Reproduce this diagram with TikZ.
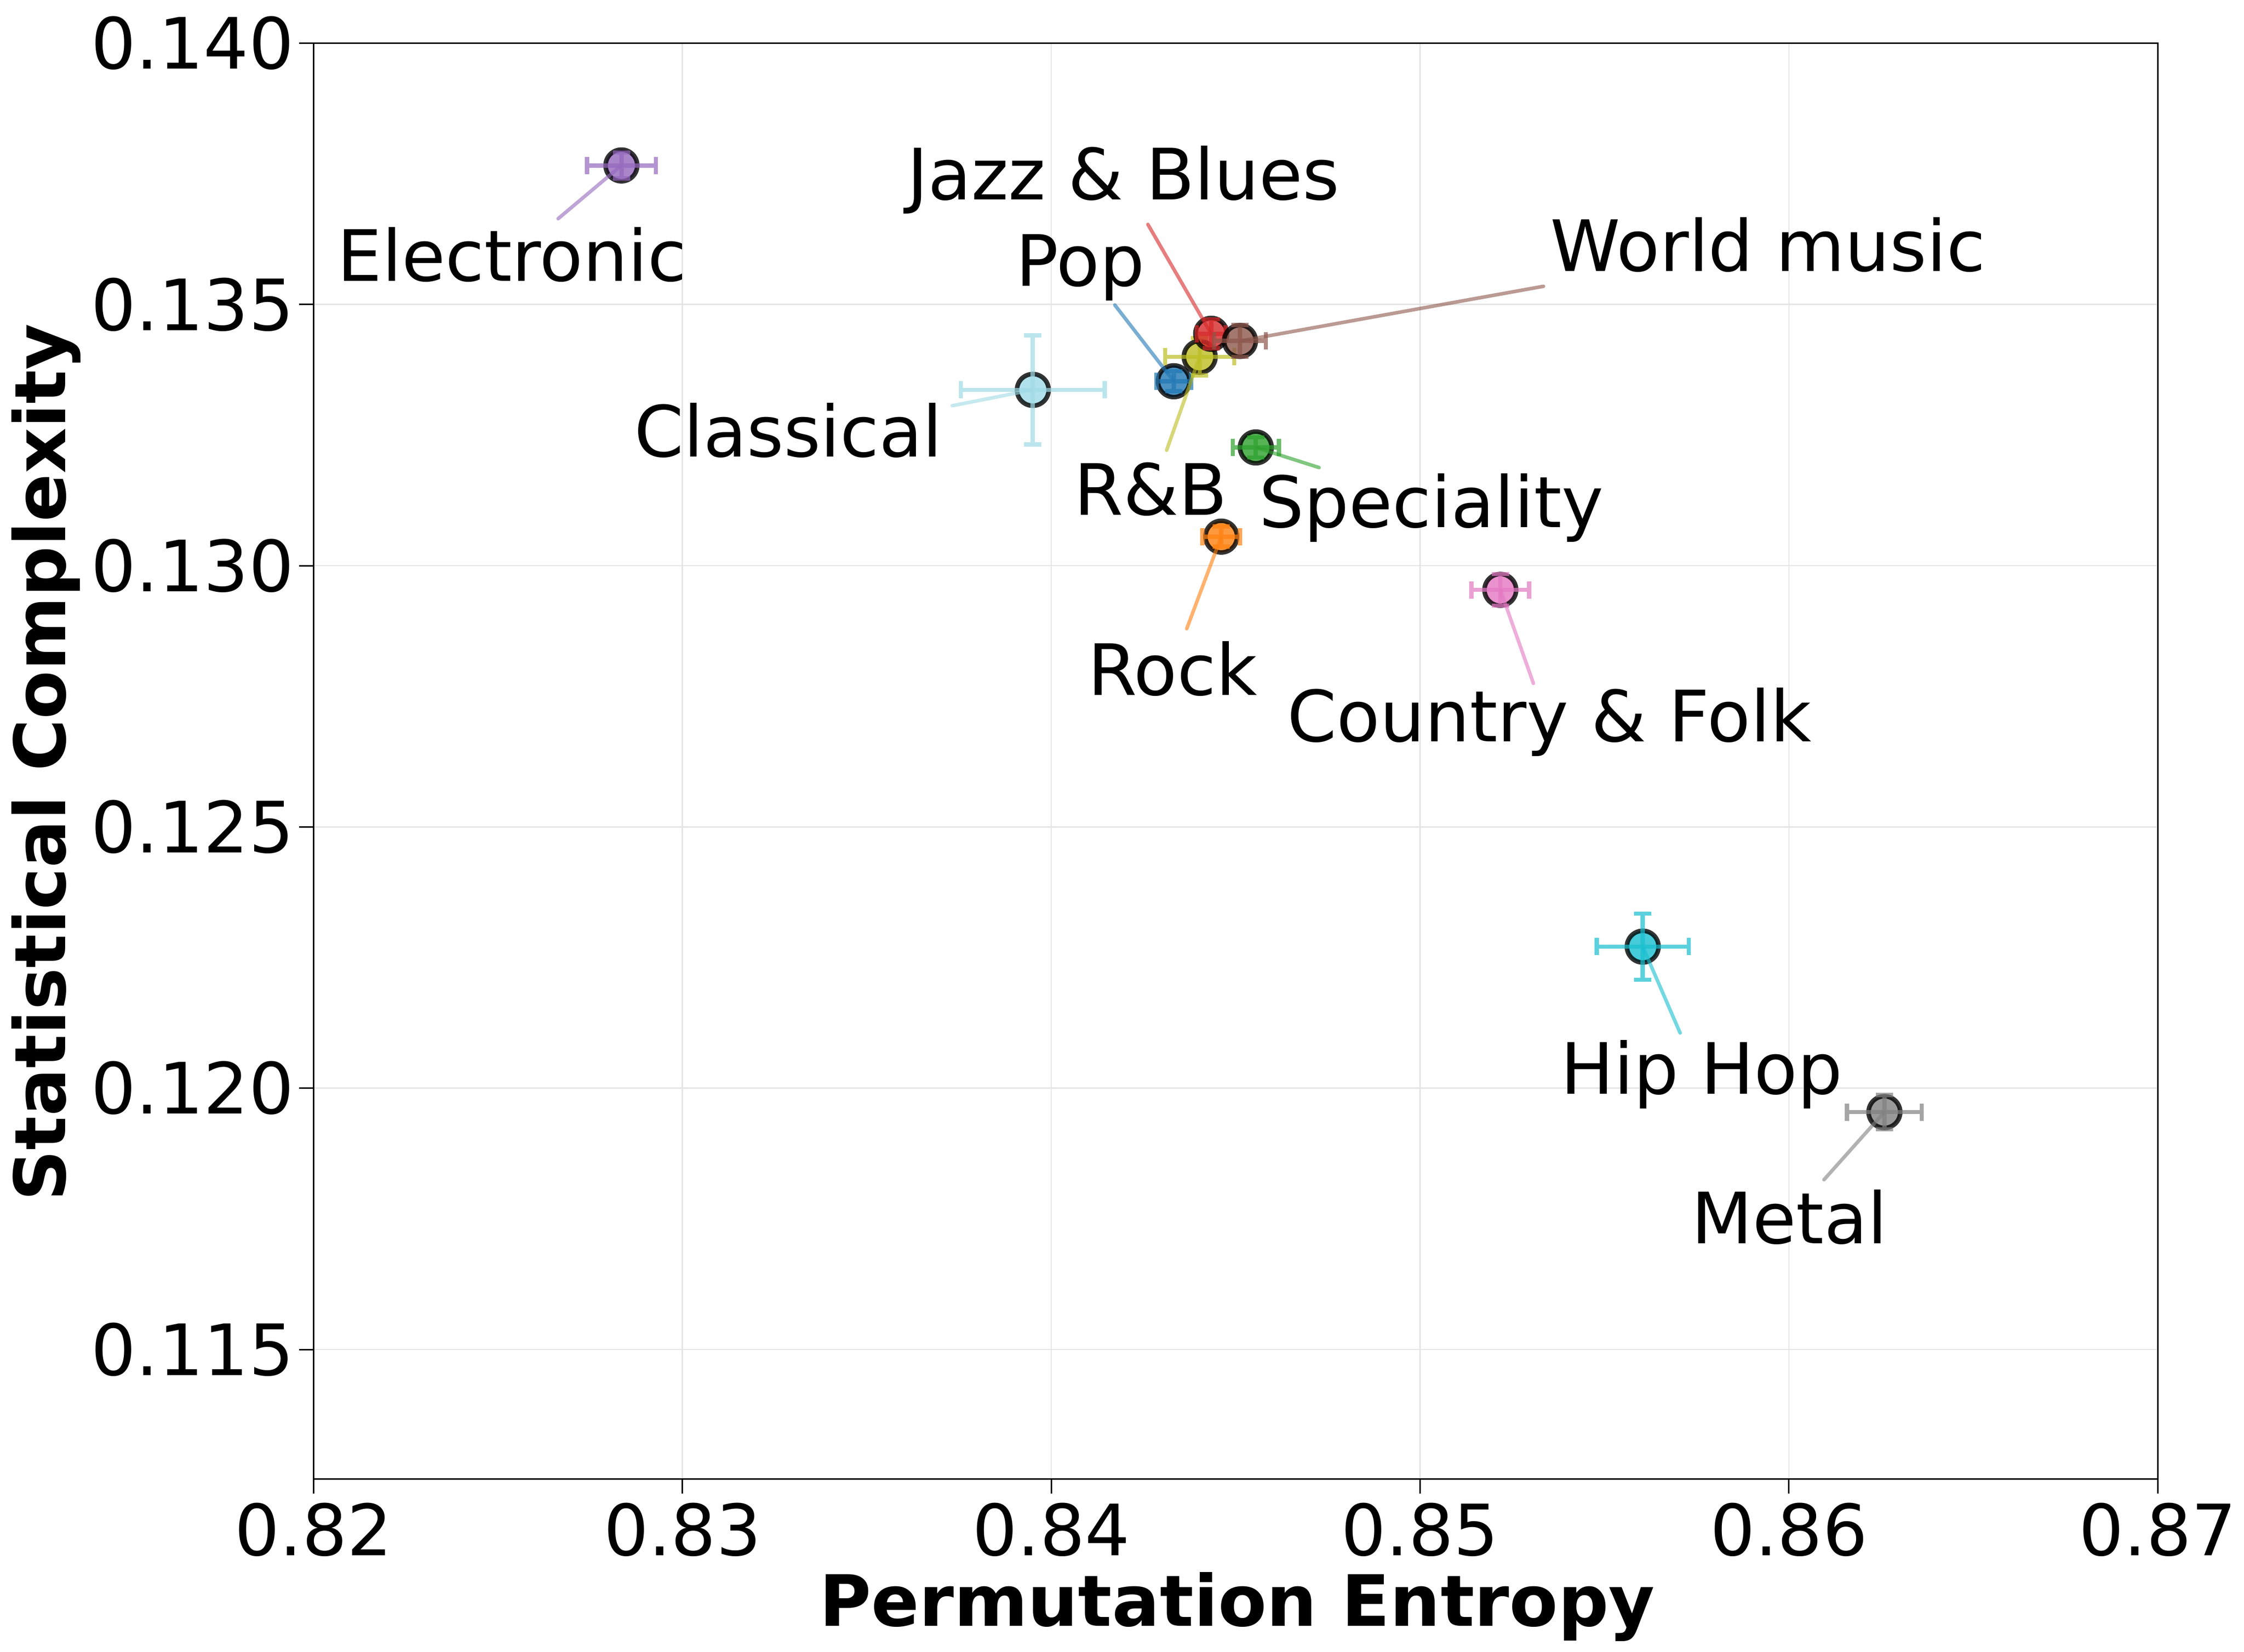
\documentclass[tikz,border=0pt]{standalone}
\usepackage{fontspec}
\setmainfont{DejaVu Sans}
\definecolor{cB}{HTML}{1F77B4}\definecolor{cO}{HTML}{FF7F0E}\definecolor{cG}{HTML}{2CA02C}
\definecolor{cR}{HTML}{D62728}\definecolor{cP}{HTML}{9467BD}\definecolor{cBr}{HTML}{8C564B}
\definecolor{cPk}{HTML}{E377C2}\definecolor{cGy}{HTML}{7F7F7F}\definecolor{cOl}{HTML}{BCBD22}
\definecolor{cC}{HTML}{17BECF}\definecolor{cLc}{HTML}{9EDAE5}
\begin{document}
\begin{tikzpicture}[x=0.01cm,y=-0.01cm,
  tick/.style={font=\fontsize{14}{16}\selectfont,inner sep=0pt},
  lab/.style={font=\fontsize{14}{16}\selectfont,inner sep=0pt},
  lead/.style={line width=0.7pt,opacity=0.6,line cap=round},
  pt/.style={circle,minimum size=0.22cm,inner sep=0pt,line width=0.9pt,draw=black,draw opacity=0.8,fill opacity=0.8}]
\useasboundingbox (0,0) rectangle (1560,1148);
% grid
\foreach \x in {218,474.4,730.8,987.2,1243.6,1500} \draw[black!10,line width=0.25pt] (\x,30) -- (\x,1028);
\foreach \y in {30,211.6,393.2,574.8,756.4,938} \draw[black!10,line width=0.25pt] (218,\y) -- (1500,\y);
\draw[line width=0.3pt] (218,30) rectangle (1500,1028);
\foreach \x/\t in {218/0.82,474.4/0.83,730.8/0.84,987.2/0.85,1243.6/0.86,1500/0.87}{
  \draw[line width=0.3pt] (\x,1028) -- (\x,1038);
  \node[tick,anchor=north] at (\x,1044) {\t};}
\foreach \y/\t in {30/0.140,211.6/0.135,393.2/0.130,574.8/0.125,756.4/0.120,938/0.115}{
  \draw[line width=0.3pt] (218,\y) -- (208,\y);
  \node[tick,anchor=east] at (205,\y) {\t};}
\node[font=\fontsize{14}{16}\selectfont\bfseries,inner sep=0pt] (xl) at (860,1117) {Permutation Entropy};
\node[font=\fontsize{14}{16}\selectfont\bfseries,rotate=90,inner sep=0pt] (yl) at (32,530) {Statistical Complexity};
% points: name, x, y, xerr, yerr, colour
\newcommand{\gpt}[6]{%
  \node[pt,fill=#6] (#1) at (#2,#3) {};
  \draw[#6,opacity=0.7,line width=0.85pt] (#2-#4,#3) -- (#2+#4,#3) (#2,#3-#5) -- (#2,#3+#5)
    (#2-#4,#3-6) -- (#2-#4,#3+6) (#2+#4,#3-6) -- (#2+#4,#3+6)
    (#2-6,#3-#5) -- (#2+6,#3-#5) (#2-6,#3+#5) -- (#2+6,#3+#5);}
\gpt{el}{432}{115}{24}{9}{cP}
\gpt{cl}{718}{271}{50}{38}{cLc}
\gpt{po}{816}{265}{12}{7}{cB}
\gpt{rb}{834}{248}{24}{13}{cOl}
\gpt{jz}{842}{232}{10}{10}{cR}
\gpt{wm}{862}{237}{18}{11}{cBr}
\gpt{sp}{873}{311}{16}{7}{cG}
\gpt{ro}{849}{373}{13}{7}{cO}
\gpt{cf}{1043}{410}{20}{11}{cPk}
\gpt{hh}{1142}{658}{32}{23}{cC}
\gpt{me}{1310}{773}{26}{12}{cGy}
% labels and leaders
\node[lab] (tel) at (356,177) {Electronic};
\node[lab] (tjz) at (781,125) {Jazz \& Blues};
\node[lab] (twm) at (1229,170) {World music};
\node[lab] (tpo) at (751,186) {Pop};
\node[lab] (tcl) at (548,299) {Classical};
\node[lab] (trb) at (800,340) {R\&B};
\node[lab] (tsp) at (995,353) {Speciality};
\node[lab] (tro) at (815,465) {Rock};
\node[lab] (tcf) at (1077,502) {Country \& Folk};
\node[lab] (thh) at (1183,747) {Hip Hop};
\node[lab] (tme) at (1244,846) {Metal};
\coordinate (a1) at (388,152); \coordinate (a2) at (798,156); \coordinate (a3) at (1073,199);
\coordinate (a4) at (775,212); \coordinate (a5) at (662,282); \coordinate (a6) at (811,313);
\coordinate (a7) at (917,325); \coordinate (a8) at (825,437); \coordinate (a9) at (1066,475);
\coordinate (a10) at (1168,718); \coordinate (a11) at (1268,820);
\draw[lead,cP] (a1) -- (el.center); \draw[lead,cR] (a2) -- (jz.center);
\draw[lead,cBr] (a3) -- (wm.center); \draw[lead,cB] (a4) -- (po.center);
\draw[lead,cLc] (a5) -- (cl.center); \draw[lead,cOl] (a6) -- (rb.center);
\draw[lead,cG] (a7) -- (sp.center); \draw[lead,cO] (a8) -- (ro.center);
\draw[lead,cPk] (a9) -- (cf.center); \draw[lead,cC] (a10) -- (hh.center);
\draw[lead,cGy] (a11) -- (me.center);
\end{tikzpicture}
\end{document}
